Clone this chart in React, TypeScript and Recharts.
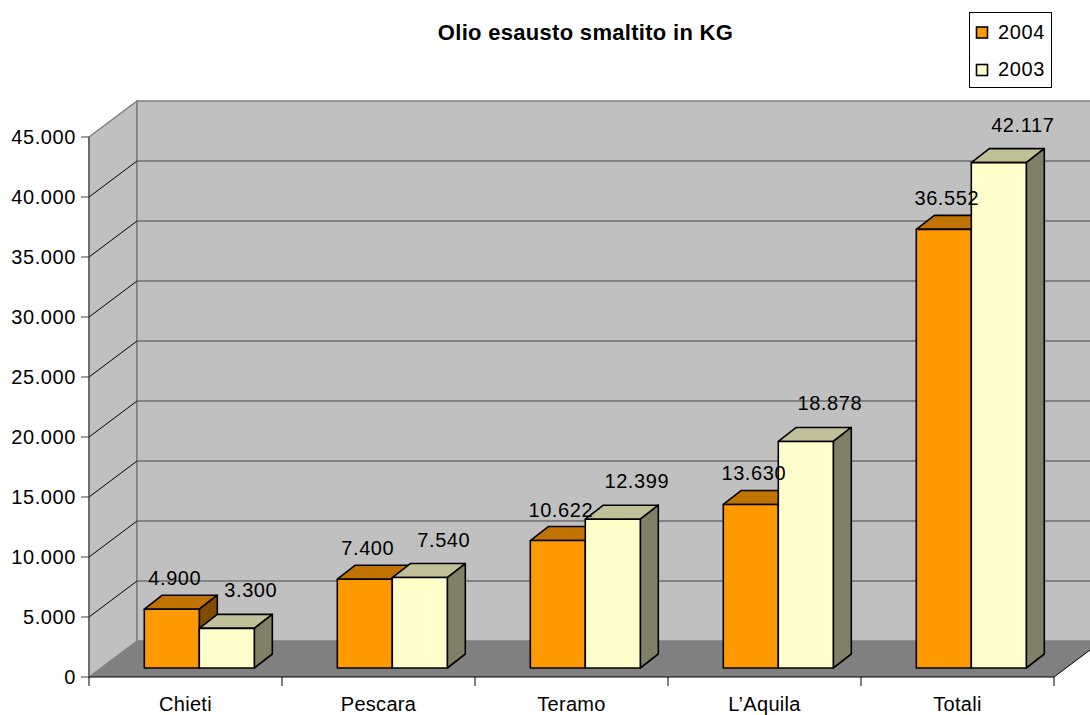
import React from 'react';
import { BarChart, Bar, XAxis, YAxis, CartesianGrid, LabelList } from 'recharts';

// ---------- data ----------
const categories = ['Chieti', 'Pescara', 'Teramo', 'L\u2019Aquila', 'Totali'];
const series2004 = [4900, 7400, 10622, 13630, 36552];
const series2003 = [3300, 7540, 12399, 18878, 42117];
const seriesNames = ['2004', '2003'];
const yTicks = [0, 5000, 10000, 15000, 20000, 25000, 30000, 35000, 40000, 45000];
const title = 'Olio esausto smaltito in KG';

const data = categories.map((c, i) => ({ name: c, y2004: series2004[i], y2003: series2003[i] }));

// ---------- layout ----------
const W = 1090;
const H = 715;
const M = { top: 137, right: 36, bottom: 0, left: 0 };
const YW = 89;
const XH = 38;
const PL = M.left + YW;
const PR = W - M.right;
const PT = M.top;
const PB = H - M.bottom - XH;
const WDX = 48; // wall depth
const WDY = -36;
const BSX = 14; // bar front plane shift
const BSY = -9;
const BDX = 18; // bar depth
const BDY = -14;
const FONT = '"Liberation Sans", Arial, Helvetica, sans-serif';

const STYLE: Record<string, { front: string; top: string; side: string; lx: number; ly: number }> = {
  y2004: { front: '#FF9900', top: '#C07300', side: '#804D00', lx: 3, ly: -24 },
  y2003: { front: '#FFFFCC', top: '#C0C099', side: '#808066', lx: 24, ly: -31 },
};
const seriesKeys = ['y2004', 'y2003'];

const fmt = (v: number) => String(v).replace(/\B(?=(\d{3})+(?!\d))/g, '.');

// ---------- walls + grid ----------
const Walls = () => (
  <g>
    <polygon
      points={`${PL},${PT} ${PL + WDX},${PT + WDY} ${PL + WDX},${PB + WDY} ${PL},${PB}`}
      fill="#C0C0C0"
      stroke="#808080"
      strokeWidth={1.5}
    />
    <polygon
      points={`${PL + WDX},${PT + WDY} ${PR + WDX},${PT + WDY} ${PR + WDX},${PB + WDY} ${PL + WDX},${PB + WDY}`}
      fill="#C0C0C0"
      stroke="#808080"
      strokeWidth={1.5}
    />
    <polygon
      points={`${PL},${PB} ${PL + WDX},${PB + WDY} ${PR + WDX},${PB + WDY} ${PR},${PB}`}
      fill="#808080"
      stroke="none"
    />
    <line x1={PR} y1={PB} x2={PR + WDX} y2={PB + WDY} stroke="#000" strokeWidth={1} />
  </g>
);

const gridLine = (p: any) => {
  const x1 = Number(p.x1);
  const x2 = Number(p.x2);
  const y = Number(p.y1);
  const edge = Math.abs(y - PT) < 0.6 || Math.abs(y - PB) < 0.6;
  return (
    <g key={`gl-${p.index}-${y}`}>
      {p.index === 0 && <Walls />}
      {!edge && (
        <g>
          <line x1={x1} y1={y} x2={x1 + WDX} y2={y + WDY} stroke="#000" strokeWidth={1} />
          <line x1={x1 + WDX} y1={y + WDY} x2={x2 + WDX} y2={y + WDY} stroke="#6E6E6E" strokeWidth={1.4} />
        </g>
      )}
    </g>
  );
};

// ---------- 3D bar ----------
const makeShape = (key: string) => (p: any) => {
  const s = STYLE[key];
  const x = Number(p.x) + BSX;
  const y = Number(p.y) + BSY;
  const w = Number(p.width);
  const h = Number(p.height);
  if (!isFinite(x) || !isFinite(y) || !(w > 0)) return <g />;
  return (
    <g strokeLinejoin="round">
      <polygon
        points={`${x},${y} ${x + BDX},${y + BDY} ${x + w + BDX},${y + BDY} ${x + w},${y}`}
        fill={s.top}
        stroke="#000"
        strokeWidth={1.6}
      />
      <polygon
        points={`${x + w},${y} ${x + w + BDX},${y + BDY} ${x + w + BDX},${y + h + BDY} ${x + w},${y + h}`}
        fill={s.side}
        stroke="#000"
        strokeWidth={1.6}
      />
      <rect x={x} y={y} width={w} height={h} fill={s.front} stroke="#000" strokeWidth={1.6} />
    </g>
  );
};

const makeLabel = (key: string) => (p: any) => {
  const s = STYLE[key];
  const vb = p.viewBox || {};
  const x = Number(p.x ?? vb.x);
  const y = Number(p.y ?? vb.y);
  const w = Number(p.width ?? vb.width);
  const v = Array.isArray(p.value) ? p.value[1] : p.value;
  if (!isFinite(x) || !isFinite(y)) return null;
  return (
    <text
      x={x + w / 2 + BSX + s.lx}
      y={y + BSY + s.ly}
      textAnchor="middle"
      fontSize={20}
      fontFamily={FONT}
      letterSpacing={0.6}
      fill="#000"
    >
      {fmt(Number(v))}
    </text>
  );
};

const CatTick = (p: any) => {
  const x = Number(p.x);
  const half = (PR - PL) / categories.length / 2;
  const last = p.index === categories.length - 1;
  return (
    <g>
      <line x1={x - half} y1={PB} x2={x - half} y2={PB + 9} stroke="#000" strokeWidth={1} />
      {last && <line x1={x + half} y1={PB} x2={x + half} y2={PB + 9} stroke="#000" strokeWidth={1} />}
      <text x={x} y={PB + 34} textAnchor="middle" fontSize={20} fontFamily={FONT} letterSpacing={0.3} fill="#000">
        {p.payload?.value}
      </text>
    </g>
  );
};

export default function App() {
  return (
    <div style={{ position: 'absolute', left: 0, top: 0, width: W, height: H, background: '#fff' }}>
      <BarChart width={W} height={H} data={data} margin={M} barCategoryGap="21.4%" barGap={0}>
        <CartesianGrid horizontal={gridLine as any} vertical={false} stroke="none" />
        <XAxis
          dataKey="name"
          height={XH}
          interval={0}
          tickLine={false}
          tickSize={9}
          tickMargin={2}
          axisLine={{ stroke: '#000', strokeWidth: 1 }}
          tick={CatTick as any}
        />
        <YAxis
          width={YW}
          domain={[0, 45000]}
          ticks={yTicks}
          interval={0}
          tickFormatter={fmt as any}
          tickSize={8}
          tickMargin={5}
          axisLine={{ stroke: '#404040', strokeWidth: 1 }}
          tickLine={{ stroke: '#404040', strokeWidth: 1 }}
          tick={{ fontSize: 20, fill: '#000', fontFamily: FONT, letterSpacing: 0.6 } as any}
        />
        {seriesKeys.map((k, i) => (
          <Bar key={k} dataKey={k} name={seriesNames[i]} fill={STYLE[k].front} isAnimationActive={false} shape={makeShape(k) as any}>
            <LabelList dataKey={k} content={makeLabel(k) as any} />
          </Bar>
        ))}
      </BarChart>
      <svg width={W} height={H} style={{ position: 'absolute', left: 0, top: 0, pointerEvents: 'none' }}>
        <text x={585.5} y={40} textAnchor="middle" fontSize={22} fontWeight="bold" fontFamily={FONT} letterSpacing={0.3} fill="#000">
          {title}
        </text>
        <rect x={969.5} y={12.5} width={82} height={75} fill="#fff" stroke="#000" strokeWidth={1} />
        {seriesKeys.map((k, i) => (
          <g key={k}>
            <rect x={976.5} y={27 + i * 37.5} width={11} height={11} fill={STYLE[k].front} stroke="#000" strokeWidth={1.6} />
            <text x={998} y={38.5 + i * 37.5} fontSize={20} fontFamily={FONT} letterSpacing={0.6} fill="#000">
              {seriesNames[i]}
            </text>
          </g>
        ))}
      </svg>
    </div>
  );
}
